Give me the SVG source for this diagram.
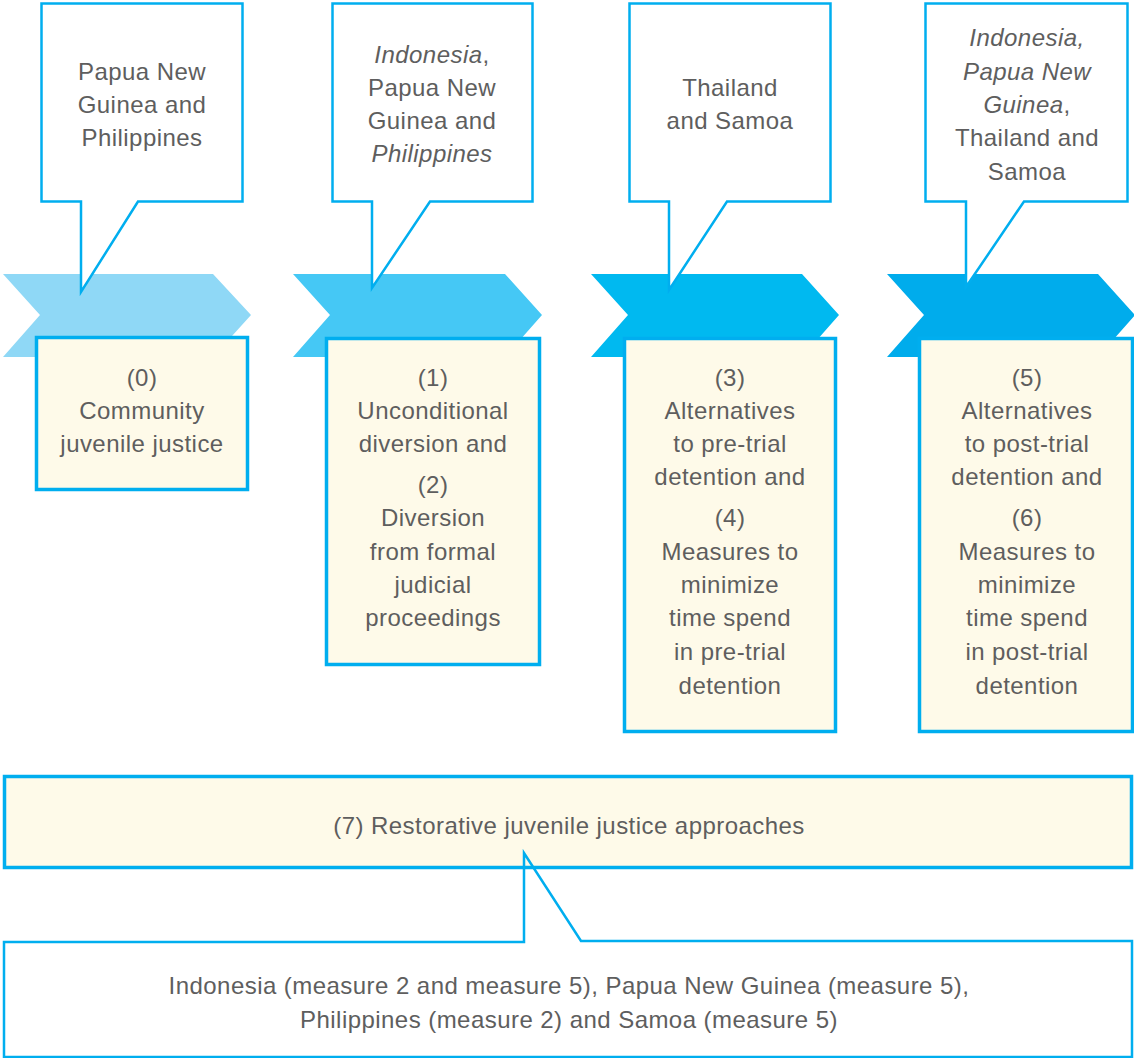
<svg xmlns="http://www.w3.org/2000/svg" width="1134" height="1058" viewBox="0 0 1134 1058">
<style>
text{font-family:"Liberation Sans",Arial,sans-serif;font-size:24px;letter-spacing:0.45px;fill:#5e5e5e;text-anchor:middle}
.it{font-style:italic}
.callout{fill:#ffffff;stroke:#00aeef;stroke-width:2.5}
.box{fill:#fefae9;stroke:#00aeef;stroke-width:3.5}
</style>
<rect width="1134" height="1058" fill="#ffffff"/>
<g id="chevrons">
<polygon id="chev0" points="3,274 213,274 251,315 213,357 3,357 40,315" fill="#8fd8f6"/>
<polygon id="chev1" points="293,274 505,274 542,315 505,357 293,357 330,315" fill="#45c8f5"/>
<polygon id="chev2" points="591,274 802,274 839,315 802,357 591,357 628,315" fill="#00b9f0"/>
<polygon id="chev3" points="887,274 1098,274 1135,315 1098,357 887,357 924,315" fill="#00acec"/>
</g>
<g id="callout-a">
<path class="callout" d="M41.5,3.5 H242.5 V201.5 H138 L81,292 V201.5 H41.5 Z"/>
<text x="142" y="80">Papua New</text>
<text x="142" y="113">Guinea and</text>
<text x="142" y="146">Philippines</text>
</g>
<g id="callout-b">
<path class="callout" d="M332.5,3.5 H532.5 V201.5 H430 L372,288 V201.5 H332.5 Z"/>
<text x="432" y="63"><tspan class="it">Indonesia</tspan>,</text>
<text x="432" y="96">Papua New</text>
<text x="432" y="129">Guinea and</text>
<text x="432" y="162" class="it">Philippines</text>
</g>
<g id="callout-c">
<path class="callout" d="M629.5,3.5 H830.5 V201.5 H727 L669,290 V201.5 H629.5 Z"/>
<text x="730" y="96">Thailand</text>
<text x="730" y="129">and Samoa</text>
</g>
<g id="callout-d">
<path class="callout" d="M925.5,3.5 H1127.5 V201.5 H1024 L966,287 V201.5 H925.5 Z"/>
<text x="1027" y="46" class="it">Indonesia,</text>
<text x="1027" y="80" class="it">Papua New</text>
<text x="1027" y="113"><tspan class="it">Guinea</tspan>,</text>
<text x="1027" y="146">Thailand and</text>
<text x="1027" y="180">Samoa</text>
</g>
<g id="box0">
<rect class="box" x="36.5" y="337.5" width="211" height="152"/>
<text x="142" y="386">(0)</text>
<text x="142" y="419">Community</text>
<text x="142" y="452">juvenile justice</text>
</g>
<g id="box1">
<rect class="box" x="326.5" y="338.5" width="213" height="326"/>
<text x="433" y="386">(1)</text>
<text x="433" y="419">Unconditional</text>
<text x="433" y="452">diversion and</text>
<text x="433" y="493">(2)</text>
<text x="433" y="526">Diversion</text>
<text x="433" y="560">from formal</text>
<text x="433" y="593">judicial</text>
<text x="433" y="626">proceedings</text>
</g>
<g id="box3">
<rect class="box" x="624.5" y="338.5" width="211" height="393"/>
<text x="730" y="386">(3)</text>
<text x="730" y="419">Alternatives</text>
<text x="730" y="452">to pre-trial</text>
<text x="730" y="485">detention and</text>
<text x="730" y="526">(4)</text>
<text x="730" y="560">Measures to</text>
<text x="730" y="593">minimize</text>
<text x="730" y="626">time spend</text>
<text x="730" y="660">in pre-trial</text>
<text x="730" y="694">detention</text>
</g>
<g id="box5">
<rect class="box" x="919.5" y="338.5" width="213" height="393"/>
<text x="1027" y="386">(5)</text>
<text x="1027" y="419">Alternatives</text>
<text x="1027" y="452">to post-trial</text>
<text x="1027" y="485">detention and</text>
<text x="1027" y="526">(6)</text>
<text x="1027" y="560">Measures to</text>
<text x="1027" y="593">minimize</text>
<text x="1027" y="626">time spend</text>
<text x="1027" y="660">in post-trial</text>
<text x="1027" y="694">detention</text>
</g>
<g id="box7">
<rect class="box" x="4.5" y="776.5" width="1127" height="91"/>
<text x="569" y="834">(7) Restorative juvenile justice approaches</text>
</g>
<g id="callout-e">
<rect x="4" y="942" width="1128" height="115" fill="#ffffff"/>
<path d="M4,942 H524 V853 L581,941 H1132 V1057 H4 Z" fill="none" stroke="#00aeef" stroke-width="2.5"/>
<text x="569" y="994">Indonesia (measure 2 and measure 5), Papua New Guinea (measure 5),</text>
<text x="569" y="1028">Philippines (measure 2) and Samoa (measure 5)</text>
</g>
</svg>
